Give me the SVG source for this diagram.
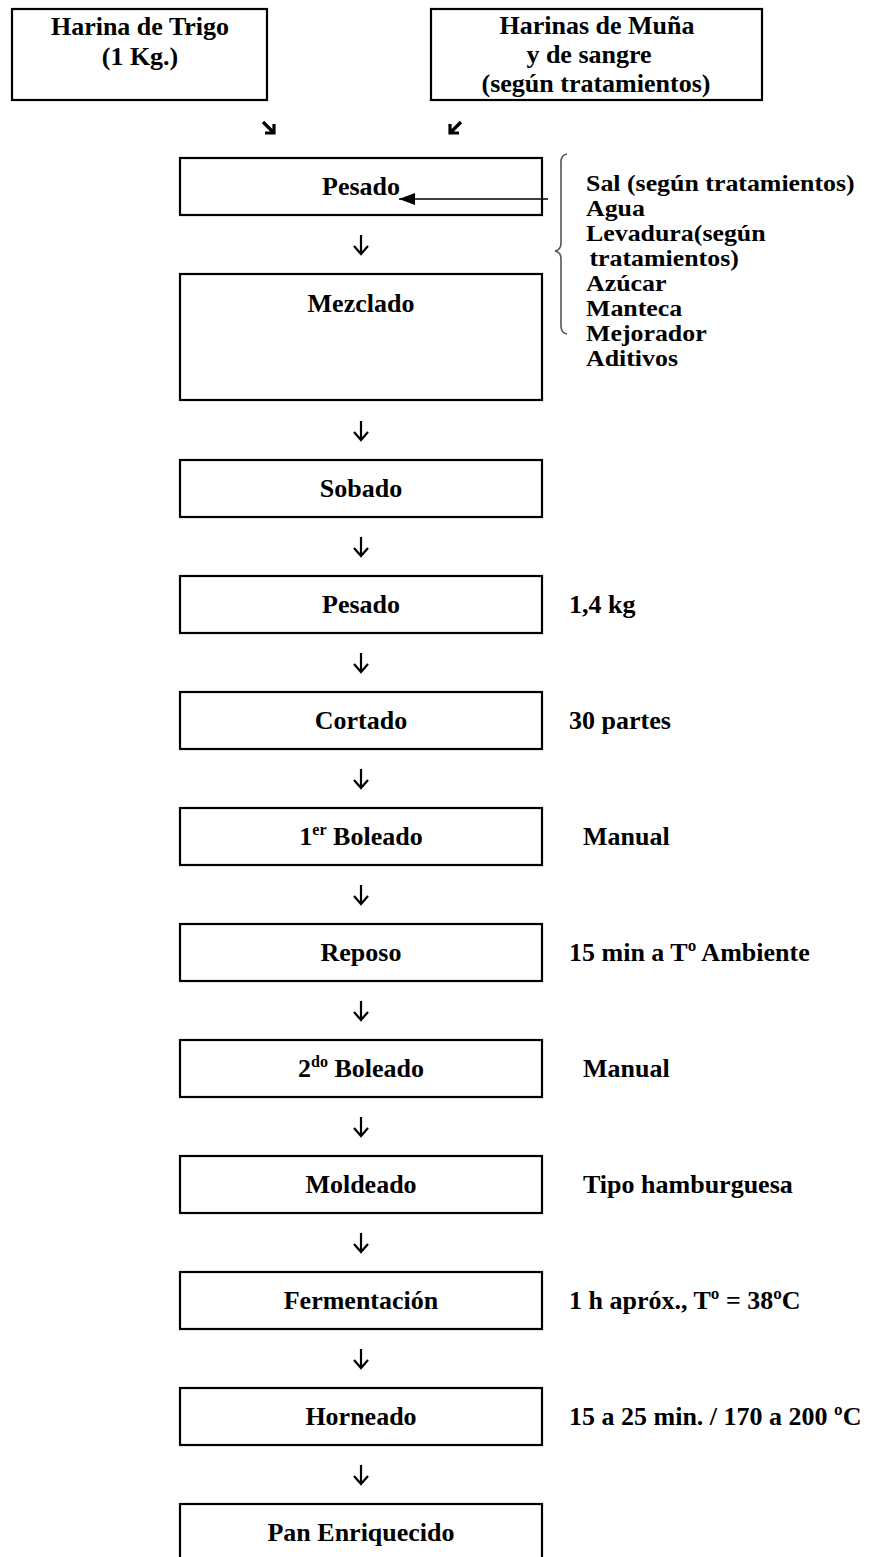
<svg xmlns="http://www.w3.org/2000/svg" width="882" height="1557" viewBox="0 0 882 1557">
<defs>
<style>
.box{fill:#fff;stroke:#000;stroke-width:2.2}
.t{font-family:"Liberation Serif","Times New Roman",serif;font-weight:bold;font-size:26px;fill:#000}
.c{text-anchor:middle}
.s{font-family:"Liberation Serif","Times New Roman",serif;font-weight:bold;font-size:22.5px;fill:#000}
.dn{fill:none;stroke:#000;stroke-width:2.2}
.dg{fill:none;stroke:#000;stroke-width:3.2;stroke-linejoin:miter}
</style>
<marker id="ah" markerWidth="16" markerHeight="12" refX="16" refY="6" orient="auto" markerUnits="userSpaceOnUse">
<path d="M0,0 L16,6 L0,12 Z" fill="#000"/>
</marker>
</defs>
<rect width="882" height="1557" fill="#fff"/>

<g id="harina-trigo">
<rect class="box" x="12" y="9" width="255" height="91"/>
<text class="t c" x="140" y="35">Harina de Trigo</text>
<text class="t c" x="140" y="65">(1 Kg.)</text>
</g>
<g id="harinas-muna">
<rect class="box" x="431" y="9" width="331" height="91"/>
<text class="t c" x="597" y="34">Harinas de Muña</text>
<text class="t c" x="589" y="63">y de sangre</text>
<text class="t c" x="596" y="92">(según tratamientos)</text>
</g>
<g id="pesado1">
<rect class="box" x="180" y="158" width="362" height="57"/>
<text class="t c" x="361" y="195">Pesado</text>
</g>
<g id="ingredientes">
<path d="M567,154 Q561,155 561,162 L561,243 Q561,250 555,251 Q561,252 561,259 L561,326 Q561,333 567,334" fill="none" stroke="#555" stroke-width="1.6"/>
<g transform="translate(586 0) scale(1.15 1)">
<text class="s" x="0" y="191">Sal (según tratamientos)</text>
<text class="s" x="0" y="216">Agua</text>
<text class="s" x="0" y="241">Levadura(según</text>
<text class="s" x="3" y="266">tratamientos)</text>
<text class="s" x="0" y="291">Azúcar</text>
<text class="s" x="0" y="316">Manteca</text>
<text class="s" x="0" y="341">Mejorador</text>
<text class="s" x="0" y="366">Aditivos</text>
</g>
</g>
<g id="mezclado">
<rect class="box" x="180" y="274" width="362" height="126"/>
<text class="t c" x="361" y="312">Mezclado</text>
</g>
<g id="sobado">
<rect class="box" x="180" y="460" width="362" height="57"/>
<text class="t c" x="361" y="497">Sobado</text>
</g>
<g id="pesado2">
<rect class="box" x="180" y="576" width="362" height="57"/>
<text class="t c" x="361" y="613">Pesado</text>
<text class="t" x="569" y="613">1,4 kg</text>
</g>
<g id="cortado">
<rect class="box" x="180" y="692" width="362" height="57"/>
<text class="t c" x="361" y="729">Cortado</text>
<text class="t" x="569" y="729">30 partes</text>
</g>
<g id="boleado1">
<rect class="box" x="180" y="808" width="362" height="57"/>
<text class="t c" x="361" y="845">1<tspan font-size="16" dy="-10">er</tspan><tspan dy="10"> Boleado</tspan></text>
<text class="t" x="583" y="845">Manual</text>
</g>
<g id="reposo">
<rect class="box" x="180" y="924" width="362" height="57"/>
<text class="t c" x="361" y="961">Reposo</text>
<text class="t" x="569" y="961">15 min a Tº Ambiente</text>
</g>
<g id="boleado2">
<rect class="box" x="180" y="1040" width="362" height="57"/>
<text class="t c" x="361" y="1077">2<tspan font-size="16" dy="-10">do</tspan><tspan dy="10"> Boleado</tspan></text>
<text class="t" x="583" y="1077">Manual</text>
</g>
<g id="moldeado">
<rect class="box" x="180" y="1156" width="362" height="57"/>
<text class="t c" x="361" y="1193">Moldeado</text>
<text class="t" x="583" y="1193">Tipo hamburguesa</text>
</g>
<g id="fermentacion">
<rect class="box" x="180" y="1272" width="362" height="57"/>
<text class="t c" x="361" y="1309">Fermentación</text>
<text class="t" x="569" y="1309">1 h apróx., Tº = 38ºC</text>
</g>
<g id="horneado">
<rect class="box" x="180" y="1388" width="362" height="57"/>
<text class="t c" x="361" y="1425">Horneado</text>
<text class="t" x="569" y="1425">15 a 25 min. / 170 a 200 ºC</text>
</g>
<g id="pan">
<rect class="box" x="180" y="1504" width="362" height="70"/>
<text class="t c" x="361" y="1541">Pan Enriquecido</text>
</g>

<g id="connectors">
<path class="dg" d="M263,122 L273,132 M274,124 L274,133 L265,133"/>
<path class="dg" d="M461,122 L451,132 M450,124 L450,133 L459,133"/>
<line x1="548" y1="199" x2="399" y2="199" stroke="#000" stroke-width="1.6" marker-end="url(#ah)"/>
<path class="dn" d="M361,235 V254 M354,246 L361,254 L368,246"/>
<path class="dn" d="M361,421 V440 M354,432 L361,440 L368,432"/>
<path class="dn" d="M361,537 V556 M354,548 L361,556 L368,548"/>
<path class="dn" d="M361,653 V672 M354,664 L361,672 L368,664"/>
<path class="dn" d="M361,769 V788 M354,780 L361,788 L368,780"/>
<path class="dn" d="M361,885 V904 M354,896 L361,904 L368,896"/>
<path class="dn" d="M361,1001 V1020 M354,1012 L361,1020 L368,1012"/>
<path class="dn" d="M361,1117 V1136 M354,1128 L361,1136 L368,1128"/>
<path class="dn" d="M361,1233 V1252 M354,1244 L361,1252 L368,1244"/>
<path class="dn" d="M361,1349 V1368 M354,1360 L361,1368 L368,1360"/>
<path class="dn" d="M361,1465 V1484 M354,1476 L361,1484 L368,1476"/>
</g>
</svg>
